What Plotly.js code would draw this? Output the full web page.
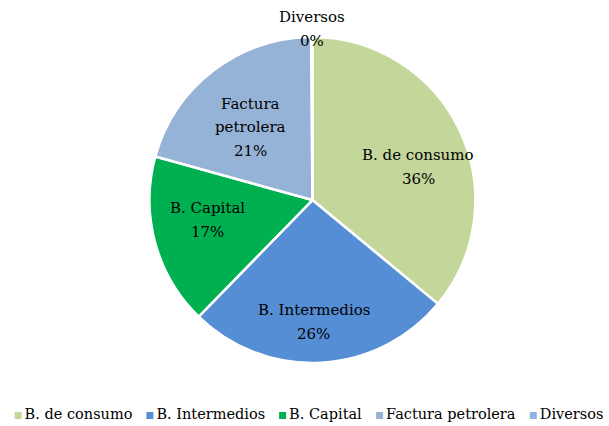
<!DOCTYPE html>
<html><head><meta charset="utf-8">
<script src="https://cdn.plot.ly/plotly-3.0.1.min.js"></script>
<style>body{margin:0;background:#fff}#chart{width:609px;height:426px}</style>
</head><body><div id="chart"></div>
<script>
const categories = ["B. de consumo", "B. Intermedios", "B. Capital", "Factura petrolera", "Diversos"];
const values = [36.0, 26.3, 17.0, 20.6, 0.1];
const colors = ["#C4D79B", "#558ED5", "#00B050", "#95B3D7", "#8EB4E3"];
const labelLines = [["B. de consumo"], ["B. Intermedios"], ["B. Capital"], ["Factura", "petrolera"], ["Diversos"]];

// label placement (layout only): radial distance as a fraction of the radius,
// and a small angular nudge (degrees) from each slice's mid-angle
const labelRadius = [0.68, 0.75, 0.655, 0.587, 1.05];
const labelNudge = [7.9, 2.5, 4.3, -3.0, 0];

const W = 609, H = 426;
const dom = {x: [0.245, 0.781], y: [0.148, 0.913]};
const font = "DejaVu Serif, Liberation Serif, serif";

const total = values.reduce((a, b) => a + b, 0);
const pct = values.map(v => Math.round(v / total * 100) + "%");

const cx = (dom.x[0] + dom.x[1]) / 2, cy = (dom.y[0] + dom.y[1]) / 2;
const rPx = Math.min((dom.x[1] - dom.x[0]) * W, (dom.y[1] - dom.y[0]) * H) / 2;
const lineStep = 23.5;
const annotations = [];
let cum = 0;
values.forEach((v, i) => {
  const mid = (cum + v / 2) / total * 2 * Math.PI + labelNudge[i] * Math.PI / 180;
  cum += v;
  const d = labelRadius[i] * rPx;
  const ax = cx + d * Math.sin(mid) / W;
  const ay = cy + d * Math.cos(mid) / H;
  const lines = labelLines[i].concat([pct[i]]);
  lines.forEach((ln, k) => {
    annotations.push({
      text: ln, showarrow: false, xref: "paper", yref: "paper",
      x: ax, y: ay, xanchor: "center", yanchor: "middle",
      yshift: -((k - (lines.length - 1) / 2) * lineStep),
      font: {family: font, size: 15, color: "#000000"}
    });
  });
});

const trace = {
  type: "pie",
  labels: categories,
  values: values,
  textinfo: "none",
  sort: false,
  direction: "clockwise",
  rotation: 0,
  marker: {colors: colors, line: {color: "#ffffff", width: 2.5}},
  domain: dom,
  hoverinfo: "label+percent"
};
const layout = {
  width: W, height: H,
  margin: {l: 0, r: 0, t: 0, b: 0},
  paper_bgcolor: "#ffffff",
  showlegend: true,
  legend: {orientation: "h", x: 0, xanchor: "left", y: 0, yanchor: "bottom",
           bgcolor: "rgba(0,0,0,0)", entrywidth: 1, entrywidthmode: "pixels",
           font: {family: font, size: 14.5, color: "#000000"}, traceorder: "normal"},
  annotations: annotations
};
Plotly.newPlot("chart", [trace], layout, {displayModeBar: false}).then(gd => {
  // Excel-style compact legend: small square markers, one centred row
  const leg = gd.querySelector(".legend");
  leg.querySelectorAll("[clip-path]").forEach(e => e.removeAttribute("clip-path"));
  const items = Array.from(leg.querySelectorAll(".traces"));
  const markGap = 10, itemGap = 14, half = 3.5, rowY = 413.5;
  const widths = items.map(t => t.querySelector("text.legendtext").getBoundingClientRect().width);
  const totalW = widths.reduce((a, w) => a + w + markGap, 0) + itemGap * (items.length - 1);
  let x = 309 - totalW / 2;
  items.forEach((t, i) => {
    const p = t.querySelector("path.legendpie");
    p.setAttribute("d", `M${half},${half}H${-half}V${-half}H${half}Z`);
    p.style.strokeWidth = "0";
    const pb = p.getBoundingClientRect();
    const dxp = x - pb.left, dyp = (rowY + 2) - (pb.top + pb.height / 2);
    p.setAttribute("transform", (p.getAttribute("transform") || "") + ` translate(${dxp},${dyp})`);
    const tx = t.querySelector("text.legendtext");
    const tb = tx.getBoundingClientRect();
    const dxt = (x + markGap) - tb.left, dyt = rowY - (tb.top + tb.height / 2);
    tx.setAttribute("transform", (tx.getAttribute("transform") || "") + ` translate(${dxt},${dyt})`);
    x += markGap + widths[i] + itemGap;
  });
});
</script>
</body></html>
